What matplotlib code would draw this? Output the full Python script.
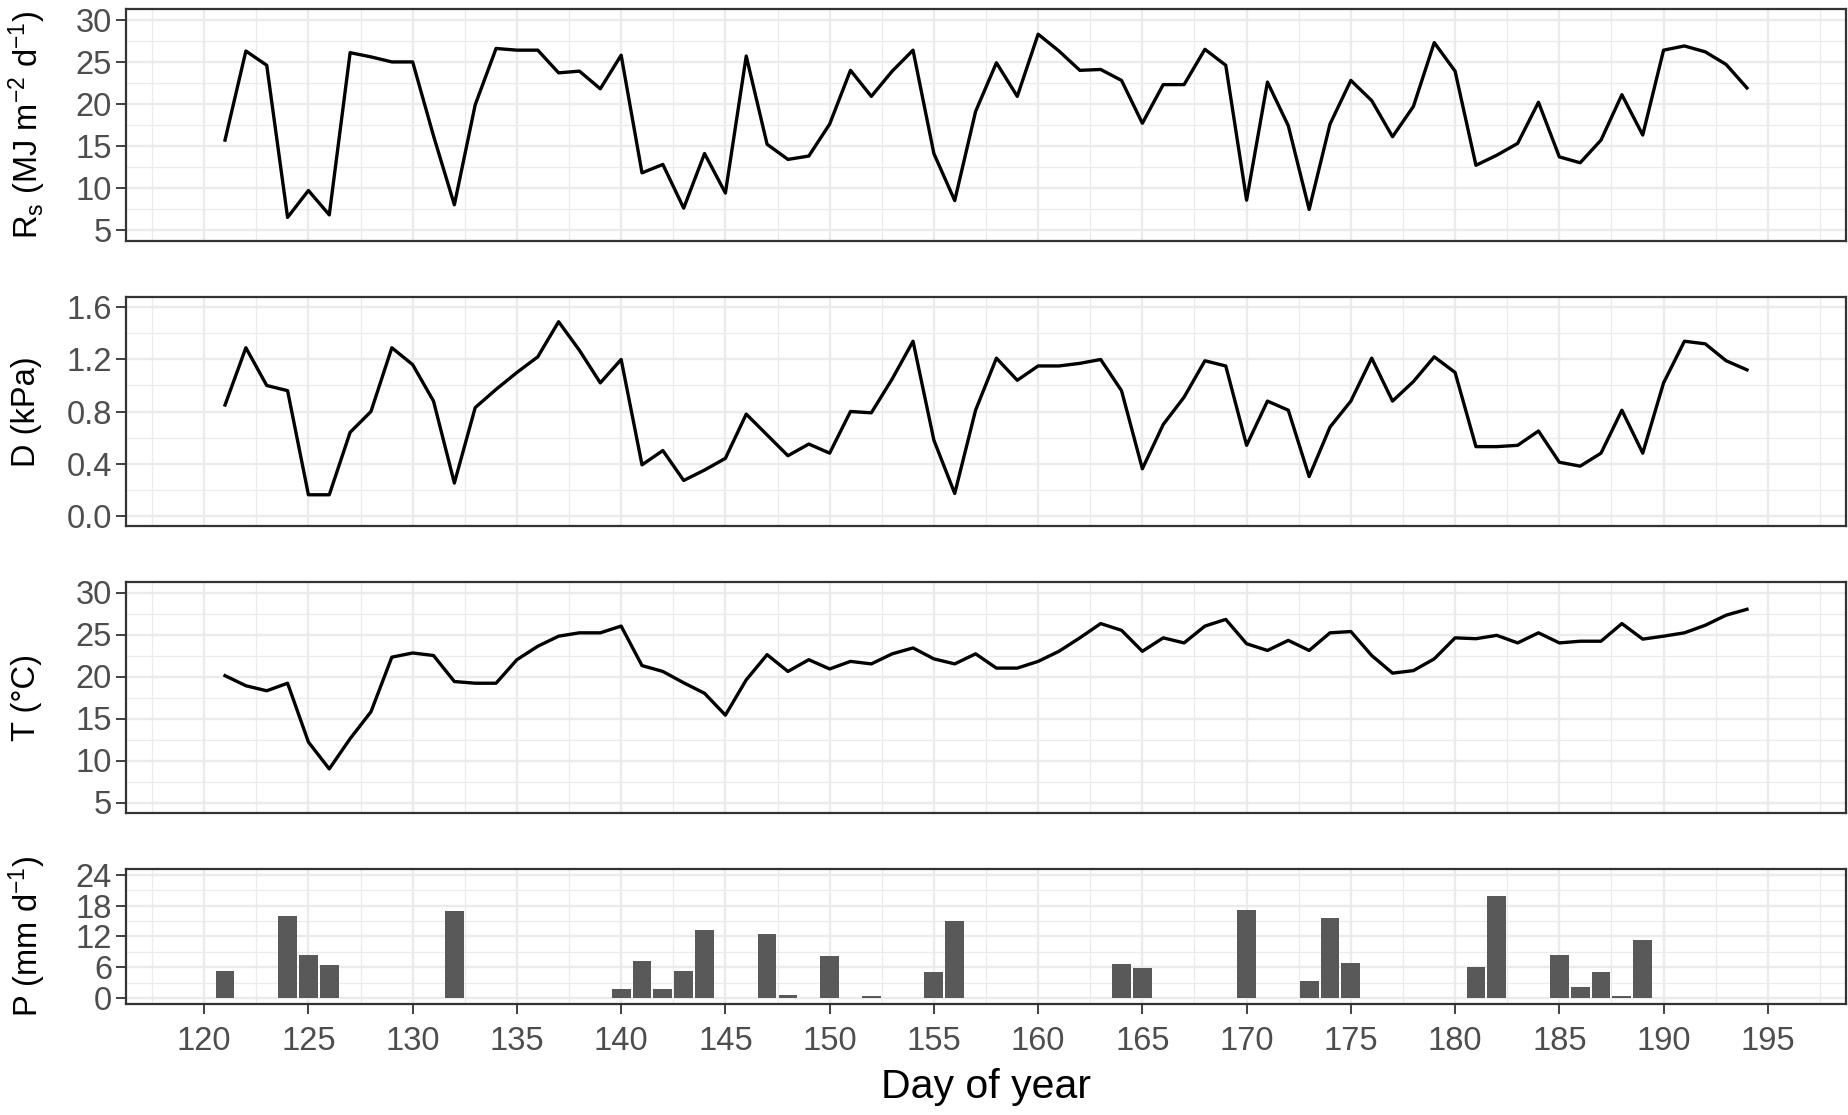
import numpy as np
import matplotlib
matplotlib.use("Agg")
import matplotlib.pyplot as plt
from matplotlib.ticker import MultipleLocator

plt.rcParams["font.family"] = ["Liberation Sans", "DejaVu Sans"]
plt.rcParams["mathtext.default"] = "regular"

days = np.arange(121, 195)

rs = [15.7, 26.3, 24.6, 6.5, 9.7, 6.8, 26.1, 25.6, 25.0, 25.0,
      16.2, 8.0, 19.9, 26.6, 26.4, 26.4, 23.7, 23.9, 21.8, 25.8,
      11.8, 12.8, 7.6, 14.1, 9.4, 25.7, 15.2, 13.4, 13.8, 17.6,
      24.0, 20.9, 23.9, 26.4, 14.1, 8.5, 19.1, 24.9, 20.9, 28.3,
      26.3, 24.0, 24.1, 22.8, 17.7, 22.3, 22.3, 26.5, 24.6, 8.55,
      22.6, 17.4, 7.45, 17.6, 22.8, 20.4, 16.1, 19.7, 27.3, 23.9,
      12.7, 13.9, 15.3, 20.2, 13.7, 13.0, 15.7, 21.1, 16.3, 26.4,
      26.9, 26.2, 24.7, 21.9]

vpd = [0.85, 1.29, 1.00, 0.96, 0.16, 0.16, 0.64, 0.80, 1.29, 1.16,
       0.88, 0.25, 0.83, 0.97, 1.10, 1.22, 1.49, 1.27, 1.02, 1.20,
       0.39, 0.50, 0.27, 0.35, 0.44, 0.78, 0.62, 0.46, 0.55, 0.48,
       0.80, 0.79, 1.05, 1.34, 0.58, 0.17, 0.81, 1.21, 1.04, 1.15,
       1.15, 1.17, 1.20, 0.96, 0.36, 0.70, 0.91, 1.19, 1.15, 0.54,
       0.88, 0.81, 0.30, 0.68, 0.88, 1.21, 0.88, 1.03, 1.22, 1.10,
       0.53, 0.53, 0.54, 0.65, 0.41, 0.38, 0.48, 0.81, 0.48, 1.02,
       1.34, 1.32, 1.19, 1.12]

temp = [20.1, 18.9, 18.3, 19.2, 12.2, 9.0, 12.6, 15.8, 22.3, 22.8,
        22.5, 19.4, 19.2, 19.2, 22.0, 23.6, 24.8, 25.2, 25.2, 26.0,
        21.3, 20.6, 19.25, 18.0, 15.4, 19.6, 22.6, 20.6, 22.0, 20.9,
        21.8, 21.5, 22.7, 23.4, 22.1, 21.5, 22.7, 21.0, 21.0, 21.8,
        23.0, 24.6, 26.3, 25.5, 23.0, 24.6, 24.0, 26.0, 26.8, 23.9,
        23.1, 24.3, 23.1, 25.2, 25.35, 22.5, 20.4, 20.7, 22.1, 24.6,
        24.5, 24.9, 24.0, 25.2, 24.0, 24.2, 24.2, 26.3, 24.45, 24.8,
        25.2, 26.1, 27.3, 28.0]

rain_days = [121, 124, 125, 126, 132, 140, 141, 142, 143, 144, 147, 148,
             150, 152, 155, 156, 164, 165, 170, 173, 174, 175, 181, 182,
             185, 186, 187, 188, 189]
rain_mm = [5.2, 16.0, 8.4, 6.4, 17.0, 1.8, 7.2, 1.8, 5.2, 13.3, 12.5, 0.5,
           8.1, 0.3, 5.0, 15.1, 6.6, 5.8, 17.2, 3.3, 15.7, 6.8, 6.1, 19.9,
           8.3, 2.1, 5.0, 0.3, 11.3]

W, H = 1849, 1115
fig = plt.figure(figsize=(W / 100, H / 100), dpi=100)

left = 126 / W
width = 1720 / W
panels = [(9.4, 240.5), (297, 526), (582, 813), (869, 1004)]
axes = [fig.add_axes([left, 1 - b / H, width, (b - t) / H]) for t, b in panels]

tick_col = "#4D4D4D"
grid_col = "#EBEBEB"
fs = 23.5


def style(ax, ymaj, ymin, ylim, bottom=False):
    ax.set_xlim(116.25, 198.75)
    ax.set_ylim(*ylim)
    ax.xaxis.set_major_locator(MultipleLocator(5))
    ax.xaxis.set_minor_locator(MultipleLocator(2.5))
    ax.yaxis.set_major_locator(MultipleLocator(ymaj))
    ax.yaxis.set_minor_locator(MultipleLocator(ymin))
    ax.grid(which="major", color=grid_col, lw=1.7, zorder=0)
    ax.grid(which="minor", color=grid_col, lw=0.9, zorder=0)
    ax.set_axisbelow(True)
    for s in ax.spines.values():
        s.set_color("#333333")
        s.set_linewidth(1.6)
    ax.tick_params(axis="y", which="major", length=7, width=1.3, color="#333333",
                   labelsize=fs, labelcolor=tick_col, pad=3)
    ax.tick_params(which="minor", length=0)
    if bottom:
        ax.tick_params(axis="x", which="major", length=7, width=1.3, color="#333333",
                       labelsize=fs, labelcolor=tick_col, pad=9)
    else:
        ax.tick_params(axis="x", which="major", length=0, labelbottom=False)


ax1, ax2, ax3, ax4 = axes

ax1.plot(days, rs, color="black", lw=2.4, zorder=3)
style(ax1, 5, 2.5, (3.75, 31.25))

ax2.plot(days, vpd, color="black", lw=2.4, zorder=3)
style(ax2, 0.4, 0.2, (-0.08, 1.68))
ax2.yaxis.set_major_formatter(plt.FuncFormatter(lambda v, p: f"{v:.1f}"))

ax3.plot(days, temp, color="black", lw=2.4, zorder=3)
style(ax3, 5, 2.5, (3.75, 31.25))

ax4.bar(rain_days, rain_mm, width=0.9, color="#595959", zorder=3)
style(ax4, 6, 3, (-1.2, 25.2), bottom=True)
ax4.set_xlabel("Day of year", fontsize=29.5, labelpad=8)

ylabels = [r"R$_s$ (MJ m$^{-2}$ d$^{-1}$)", "D (kPa)", "T (°C)", r"P (mm d$^{-1}$)"]
for (t, b), lab in zip(panels, ylabels):
    fig.text(27 / W, 1 - (t + b) / 2 / H, lab, rotation=90, ha="center", va="center",
             fontsize=fs)

fig.savefig("out.png", dpi=100)
